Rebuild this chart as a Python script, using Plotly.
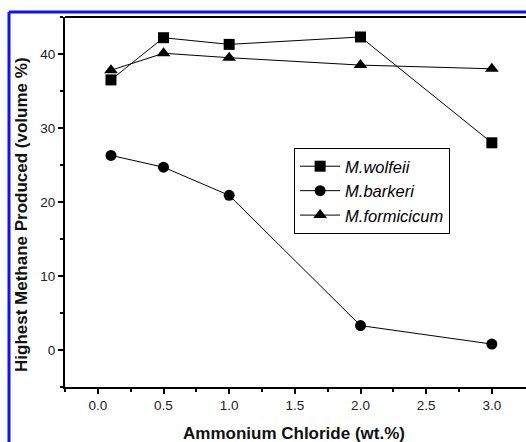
import plotly.graph_objects as go

x_vals = [0.1, 0.5, 1.0, 2.0, 3.0]
wolfeii = [36.5, 42.2, 41.3, 42.3, 28.0]
barkeri = [26.3, 24.7, 20.9, 3.3, 0.8]
formicicum = [37.8, 40.1, 39.5, 38.5, 38.0]
series_names = ["<i>M.wolfeii</i>", "<i>M.barkeri</i>", "<i>M.formicicum</i>"]
x_ticks = [0.0, 0.5, 1.0, 1.5, 2.0, 2.5, 3.0]
x_ticktext = ["0.0", "0.5", "1.0", "1.5", "2.0", "2.5", "3.0"]
y_ticks = [0, 10, 20, 30, 40]
x_title = "Ammonium Chloride (wt.%)"
y_title = "Highest Methane Produced (volume %)"

fig = go.Figure()
specs = [(wolfeii, "square", 11), (barkeri, "circle", 11), (formicicum, "triangle-up", 12)]
for (vals, sym, sz), name in zip(specs, series_names):
    fig.add_trace(go.Scatter(
        x=x_vals, y=vals, name=name, mode="lines+markers",
        line=dict(color="black", width=1),
        marker=dict(symbol=sym, size=sz, color="black"),
    ))

font_family = "Liberation Sans, Arial, sans-serif"
W, H = 526, 442
L, R, T, B = 65, 0, 17, 55
pw, ph = W - L - R, H - T - B

fig.update_layout(
    width=W, height=H,
    margin=dict(l=L, r=R, t=T, b=B),
    paper_bgcolor="white", plot_bgcolor="white",
    font=dict(family=font_family, size=13, color="#222"),
    showlegend=True,
    legend=dict(
        x=0.497, y=0.646, xanchor="left", yanchor="top",
        bordercolor="black", borderwidth=1, bgcolor="white",
        font=dict(size=16.5, color="black", family=font_family),
        tracegroupgap=0, itemwidth=40,
    ),
    xaxis=dict(
        range=[-0.25, 3.26], tickvals=x_ticks, ticktext=x_ticktext,
        ticks="outside", ticklen=5, tickwidth=1.5, tickcolor="black",
        showline=True, linecolor="black", linewidth=2, mirror=False,
        showgrid=False, zeroline=False, automargin=False,
        minor=dict(tickvals=[-0.25, 0.25, 0.75, 1.25, 1.75, 2.25, 2.75], ticks="outside",
                   ticklen=3, tickcolor="black", tickwidth=1.5, showgrid=False),
        tickfont=dict(size=13.5, color="#222"),
    ),
    yaxis=dict(
        range=[-5, 45], tickvals=y_ticks,
        ticks="outside", ticklen=5, tickwidth=1.5, tickcolor="black",
        showline=True, linecolor="black", linewidth=2, mirror=False,
        showgrid=False, zeroline=False, automargin=False,
        minor=dict(dtick=5, tick0=0, ticks="outside", ticklen=3, tickcolor="black", tickwidth=1.5, showgrid=False),
        tickfont=dict(size=13.5, color="#222"),
    ),
)

# top frame line of the plot area
fig.add_shape(type="line", xref="paper", yref="paper", x0=0, y0=1, x1=1.02, y1=1,
              line=dict(color="black", width=2))

# axis titles as annotations for exact placement
fig.add_annotation(text=x_title, xref="paper", yref="paper",
                   x=(294 - L) / pw, y=-(433 - (H - B)) / ph, xanchor="center", yanchor="middle",
                   showarrow=False, font=dict(size=17, color="#111", weight="bold", family=font_family))
fig.add_annotation(text=y_title, xref="paper", yref="paper", textangle=-90,
                   x=(21 - L) / pw, y=((H - B) - 215) / ph, xanchor="center", yanchor="middle",
                   showarrow=False, font=dict(size=17, color="#111", weight="bold", family=font_family))

# blue frame (left and top edges)
bx = (9 - L) / pw
by = ((H - B) - 12) / ph
fig.add_shape(type="line", xref="paper", yref="paper", x0=bx, y0=by, x1=1.05, y1=by,
              line=dict(color="#1010ff", width=3))
fig.add_shape(type="line", xref="paper", yref="paper", x0=bx, y0=by, x1=bx, y1=-0.2,
              line=dict(color="#1010ff", width=3))

fig.write_html(
    "out.html",
    config={"displayModeBar": False},
    post_script="document.body.style.margin='0';document.body.style.overflow='hidden';",
)
